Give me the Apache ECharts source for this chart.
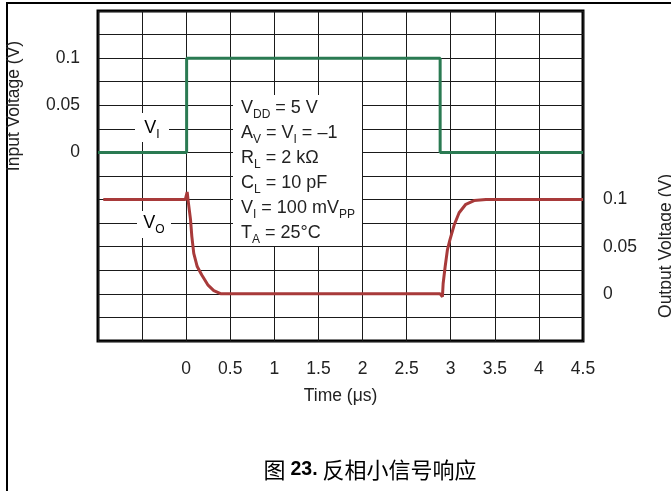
<!DOCTYPE html>
<html>
<head>
<meta charset="utf-8">
<script src="https://cdn.jsdelivr.net/npm/echarts@6/dist/echarts.min.js"></script>
<style>
  html, body { margin: 0; padding: 0; background: #fff; }
  #chart { width: 671px; height: 491px; }
</style>
</head>
<body>
<div id="chart"></div>
<script>
// input step (V_I), left axis
const inTime = [-1, 0.005, 0.005, 2.88, 2.88, 4.5];
const inVolt = [0, 0, 0.1, 0.1, 0, 0];

// output response (V_O), right axis
const outTime = [-0.94, -0.01, 0.011, 0.026, 0.049, 0.064, 0.086, 0.125, 0.177, 0.245, 0.313, 0.396,
  2.88, 2.906, 2.914, 2.937, 2.963, 2.99, 3.039, 3.095, 3.171, 3.265, 3.4, 4.5];
const outVolt = [0.1, 0.1, 0.108, 0.096, 0.079, 0.061, 0.043, 0.029, 0.02, 0.0096, 0.0035, 0,
  0, -0.003, 0.011, 0.029, 0.047, 0.057, 0.073, 0.086, 0.095, 0.099, 0.1, 0.1];

const yLabels = ['0', '0.05', '0.1'];
const conditions = [
  '{m|V}{s|DD}{m| = 5 V}',
  '{m|A}{s|V}{m| = V}{s|I}{m| = \u20131}',
  '{m|R}{s|L}{m| = 2 k\u03A9}',
  '{m|C}{s|L}{m| = 10 pF}',
  '{m|V}{s|I}{m| = 100 mV}{s|PP}',
  '{m|T}{s|A}{m| = 25\u00B0C}'
];

const font = "'Liberation Sans', Arial, sans-serif";
const chart = echarts.init(document.getElementById('chart'));

function yFmt(v) {
  const r = String(Math.round(v * 1000) / 1000);
  return yLabels.indexOf(r) >= 0 ? r : '';
}

const richSub = {
  m: { fontSize: 18, fontFamily: font, color: '#222', lineHeight: 25 },
  s: { fontSize: 12, fontFamily: font, color: '#222', lineHeight: 12, verticalAlign: 'bottom' }
};
const labelStyle = { fontSize: 17.5, fontFamily: font, color: '#222' };

chart.setOption({
  animation: false,
  backgroundColor: '#fff',
  grid: {
    left: 98, right: 88, top: 11, bottom: 150,
    show: true, borderColor: '#000', borderWidth: 3
  },
  xAxis: {
    type: 'value', min: -1, max: 4.5, interval: 0.5,
    axisLine: { show: false }, axisTick: { show: false },
    axisLabel: Object.assign({ margin: 19, formatter: v => (v >= 0 ? String(v) : '') }, labelStyle),
    splitLine: { show: true, lineStyle: { color: '#1a1a1a', width: 1 } },
    name: 'Time (\u03BCs)', nameLocation: 'middle', nameGap: 46,
    nameTextStyle: labelStyle
  },
  yAxis: [
    {
      type: 'value', min: -0.2, max: 0.15, interval: 0.025, position: 'left',
      axisLine: { show: false }, axisTick: { show: false },
      axisLabel: Object.assign({ margin: 18, formatter: yFmt }, labelStyle),
      splitLine: { show: true, lineStyle: { color: '#1a1a1a', width: 1 } }
    },
    {
      type: 'value', min: -0.05, max: 0.3, interval: 0.025, position: 'right',
      axisLine: { show: false }, axisTick: { show: false },
      axisLabel: Object.assign({ margin: 20, formatter: yFmt }, labelStyle),
      splitLine: { show: false }
    }
  ],
  series: [
    {
      name: 'Input', type: 'line', yAxisIndex: 0, showSymbol: false,
      lineStyle: { color: '#2a7a52', width: 3 },
      data: inTime.map((t, i) => [t, inVolt[i]])
    },
    {
      name: 'Output', type: 'line', yAxisIndex: 1, showSymbol: false,
      lineStyle: { color: '#a83a3a', width: 3 },
      data: outTime.map((t, i) => [t, outVolt[i]])
    }
  ],
  graphic: [
    {
      type: 'rect', z: 100, shape: { x: 7, y: 3, width: 800, height: 800 },
      style: { fill: null, stroke: '#000', lineWidth: 2 }
    },
    {
      type: 'text', z: 100, x: 14, y: 106, rotation: Math.PI / 2,
      style: { text: 'Input Voltage (V)', fontSize: 17.5, fontFamily: font, fill: '#222',
        align: 'center', verticalAlign: 'middle' }
    },
    {
      type: 'text', z: 100, x: 666, y: 246, rotation: Math.PI / 2,
      style: { text: 'Output Voltage (V)', fontSize: 17.5, fontFamily: font, fill: '#222',
        align: 'center', verticalAlign: 'middle' }
    },
    {
      type: 'rect', z: 100, shape: { x: 233, y: 95, width: 129, height: 151 },
      style: { fill: '#fff' }
    },
    {
      type: 'text', z: 101, x: 241, y: 96,
      style: { text: conditions.join('\n'), rich: richSub, fill: '#222',
        align: 'left', verticalAlign: 'top' }
    },
    {
      type: 'rect', z: 100, shape: { x: 135, y: 113, width: 34, height: 29 },
      style: { fill: '#fff' }
    },
    {
      type: 'text', z: 101, x: 152, y: 128,
      style: { text: '{m|V}{s|I}', rich: richSub, align: 'center', verticalAlign: 'middle' }
    },
    {
      type: 'rect', z: 100, shape: { x: 137, y: 211, width: 34, height: 27 },
      style: { fill: '#fff' }
    },
    {
      type: 'text', z: 101, x: 154, y: 223,
      style: { text: '{m|V}{s|O}', rich: richSub, align: 'center', verticalAlign: 'middle' }
    },
    {
      type: 'text', z: 100, x: 370, y: 470,
      style: {
        text: '{a|图 }{b|23.}{a| 反相小信号响应}',
        rich: {
          a: { fontSize: 22, fontFamily: "'Noto Sans CJK SC', sans-serif", color: '#111' },
          b: { fontSize: 19.5, fontFamily: font, fontWeight: 'bold', color: '#111' }
        },
        align: 'center', verticalAlign: 'middle'
      }
    }
  ]
});
</script>
</body>
</html>
